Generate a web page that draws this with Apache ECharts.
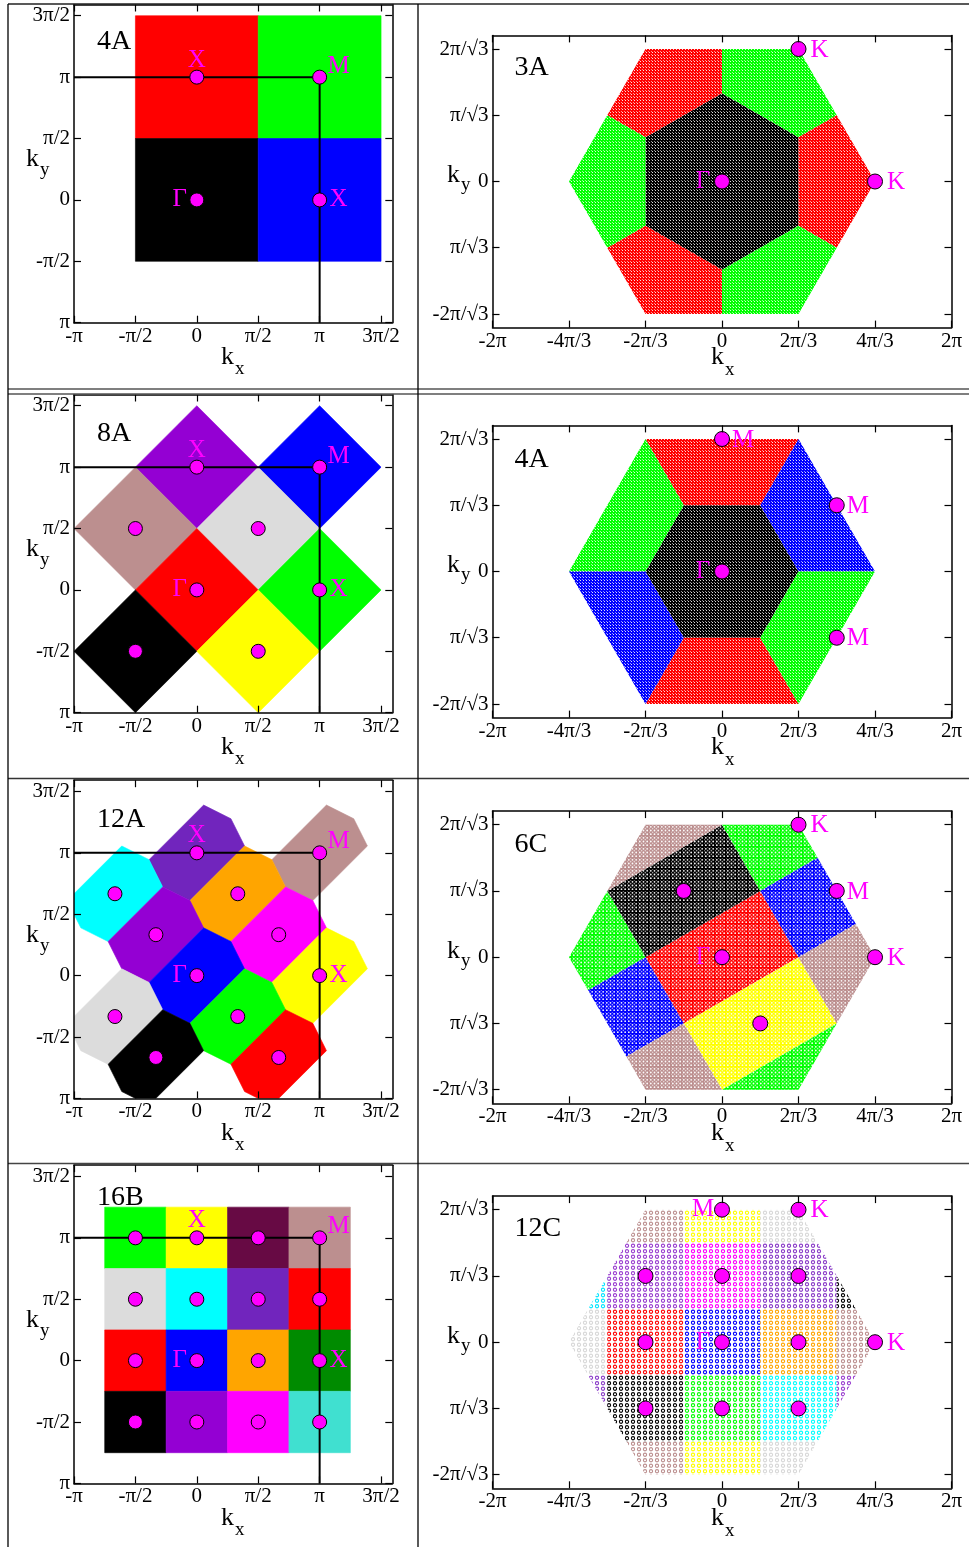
<!DOCTYPE html>
<html><head><meta charset="utf-8">
<script src="https://cdn.jsdelivr.net/npm/echarts@6/dist/echarts.min.js"></script>
<style>html,body{margin:0;padding:0;background:#fff}#c{width:969px;height:1547px}</style>
</head><body><div id="c"></div>
<script>
const PI = Math.PI;
const FONT = 'Liberation Serif';

// ---------- tick values (in units) and tick labels ----------
const sqTickUnits = [-2, -1, 0, 1, 2, 3];            // x pi/2
const sqXLabels = ['-π', '-π/2', '0', 'π/2', 'π', '3π/2'];
const sqYLabels = ['π', '-π/2', '0', 'π/2', 'π', '3π/2'];
const hxXUnits = [-6, -4, -2, 0, 2, 4, 6];           // x pi/3
const hxXLabels = ['-2π', '-4π/3', '-2π/3', '0', '2π/3', '4π/3', '2π'];
const hxYUnits = [-2, -1, 0, 1, 2];                  // x pi/sqrt3
const hxYLabels = ['-2π/√3', 'π/√3', '0', 'π/√3', '2π/√3'];

// ---------- square-lattice panels ----------
const bzPath = [[-2, 2], [2, 2], [2, -2]];           // x pi/2

// 4A (units pi/2)
const c4A_centers = [[0, 2], [2, 2], [0, 0], [2, 0]];
const c4A_colors = ['#ff0000', '#00ff00', '#000000', '#0000ff'];
const c4A_shape = [[-1, -1], [1, -1], [1, 1], [-1, 1]];
const c4A_labels = ['X', 'M', 'Γ', 'X'];
const c4A_sides = ['top', 'upright', 'left', 'right'];

// 8A (units pi/2)
const c8A_centers = [[0, 2], [2, 2], [-1, 1], [1, 1], [0, 0], [2, 0], [-1, -1], [1, -1]];
const c8A_colors = ['#9400d3', '#0000ff', '#bc8f8f', '#dcdcdc', '#ff0000', '#00ff00', '#000000', '#ffff00'];
const c8A_shape = [[1, 0], [0, 1], [-1, 0], [0, -1]];
const c8A_labels = ['X', 'M', '', '', 'Γ', 'X', '', ''];
const c8A_sides = ['top', 'upright', '', '', 'left', 'right', '', ''];

// 12A (units pi/3)
const c12A_centers = [[0, 3], [3, 3], [-2, 2], [1, 2], [-1, 1], [2, 1], [0, 0], [3, 0], [-2, -1], [1, -1], [-1, -2], [2, -2]];
const c12A_colors = ['#7125bd', '#bc8f8f', '#00ffff', '#ffa500', '#9400d3', '#ff00ff', '#0000ff', '#ffff00', '#dcdcdc', '#00ff00', '#000000', '#ff0000'];
const c12A_shape = [[7 / 6, 1 / 6], [5 / 6, 5 / 6], [1 / 6, 7 / 6], [-7 / 6, -1 / 6], [-5 / 6, -5 / 6], [-1 / 6, -7 / 6]];
const c12A_labels = ['X', 'M', '', '', '', '', 'Γ', 'X', '', '', '', ''];
const c12A_sides = ['top', 'upright', '', '', '', '', 'left', 'right', '', '', '', ''];

// 16B (units pi/2)
const c16B_centers = [[-1, 2], [0, 2], [1, 2], [2, 2], [-1, 1], [0, 1], [1, 1], [2, 1], [-1, 0], [0, 0], [1, 0], [2, 0], [-1, -1], [0, -1], [1, -1], [2, -1]];
const c16B_colors = ['#00ff00', '#ffff00', '#670a44', '#bc8f8f', '#dcdcdc', '#00ffff', '#7125bd', '#ff0000', '#ff0000', '#0000ff', '#ffa500', '#008b00', '#000000', '#9400d3', '#ff00ff', '#40e0d0'];
const c16B_shape = [[-0.5, -0.5], [0.5, -0.5], [0.5, 0.5], [-0.5, 0.5]];
const c16B_labels = ['', 'X', '', 'M', '', '', '', '', '', 'Γ', '', 'X', '', '', '', ''];
const c16B_sides = ['', 'top', '', 'upright', '', '', '', '', '', 'left', '', 'right', '', '', '', ''];

// ---------- hexagonal panels (u in pi/3, v in pi/sqrt3) ----------
const h3A_polys = [
  [[0, 4 / 3], [2, 2 / 3], [2, -2 / 3], [0, -4 / 3], [-2, -2 / 3], [-2, 2 / 3]],
  [[0, 4 / 3], [0, 2], [-2, 2], [-3, 1], [-2, 2 / 3]],
  [[0, 4 / 3], [0, 2], [2, 2], [3, 1], [2, 2 / 3]],
  [[2, 2 / 3], [3, 1], [4, 0], [3, -1], [2, -2 / 3]],
  [[2, -2 / 3], [3, -1], [2, -2], [0, -2], [0, -4 / 3]],
  [[0, -4 / 3], [0, -2], [-2, -2], [-3, -1], [-2, -2 / 3]],
  [[-2, -2 / 3], [-3, -1], [-4, 0], [-3, 1], [-2, 2 / 3]]
];
const h3A_colors = ['#000000', '#ff0000', '#00ff00', '#ff0000', '#00ff00', '#ff0000', '#00ff00'];
const h3A_points = [[0, 0], [2, 2], [4, 0]];
const h3A_labels = ['Γ', 'K', 'K'];
const h3A_sides = ['left', 'right', 'right'];

const h4A_polys = [
  [[2, 0], [1, 1], [-1, 1], [-2, 0], [-1, -1], [1, -1]],
  [[-1, 1], [1, 1], [2, 2], [-2, 2]],
  [[-1, -1], [1, -1], [2, -2], [-2, -2]],
  [[1, 1], [2, 2], [4, 0], [2, 0]],
  [[2, 0], [4, 0], [2, -2], [1, -1]],
  [[-1, 1], [-2, 2], [-4, 0], [-2, 0]],
  [[-2, 0], [-4, 0], [-2, -2], [-1, -1]]
];
const h4A_colors = ['#000000', '#ff0000', '#ff0000', '#0000ff', '#00ff00', '#00ff00', '#0000ff'];
const h4A_points = [[0, 0], [0, 2], [3, 1], [3, -1]];
const h4A_labels = ['Γ', 'M', 'M', 'M'];
const h4A_sides = ['left', 'right', 'right', 'right'];

const h6C_polys = [
  [[2, 0], [1, 1], [-2, 0], [-1, -1]],
  [[1, 1], [0, 2], [-3, 1], [-2, 0]],
  [[3, -1], [2, 0], [-1, -1], [0, -2]],
  [[0, 2], [1, 1], [2.5, 1.5], [2, 2]],
  [[3, -1], [0, -2], [2, -2]],
  [[-2, 0], [-3, 1], [-4, 0], [-3.5, -0.5]],
  [[1, 1], [2, 0], [3.5, 0.5], [2.5, 1.5]],
  [[-1, -1], [-2, 0], [-3.5, -0.5], [-2.5, -1.5]],
  [[2, 0], [3.5, 0.5], [4, 0], [3, -1]],
  [[-3, 1], [0, 2], [-2, 2]],
  [[0, -2], [-1, -1], [-2.5, -1.5], [-2, -2]]
];
const h6C_colors = ['#ff0000', '#000000', '#ffff00', '#00ff00', '#00ff00', '#00ff00', '#0000ff', '#0000ff', '#bc8f8f', '#bc8f8f', '#bc8f8f'];
const h6C_points = [[0, 0], [2, 2], [3, 1], [4, 0], [-1, 1], [1, -1]];
const h6C_labels = ['Γ', 'K', 'M', 'K', '', ''];
const h6C_sides = ['left', 'right', 'right', 'right', '', ''];

const h12C_polys = [
  [[-2.5, 1.5], [-1, 1.5], [-1, 2], [-2, 2]],
  [[-1, 1.5], [1, 1.5], [1, 2], [-1, 2]],
  [[1, 1.5], [2.5, 1.5], [2, 2], [1, 2]],
  [[-3.5, 0.5], [-3, 0.5], [-3, 1]],
  [[-3, 0.5], [-1, 0.5], [-1, 1.5], [-2.5, 1.5], [-3, 1]],
  [[-1, 0.5], [1, 0.5], [1, 1.5], [-1, 1.5]],
  [[1, 0.5], [3, 0.5], [3, 1], [2.5, 1.5], [1, 1.5]],
  [[3, 0.5], [3.5, 0.5], [3, 1]],
  [[-3, -0.5], [-3, 0.5], [-3.5, 0.5], [-4, 0], [-3.5, -0.5]],
  [[-3, -0.5], [-1, -0.5], [-1, 0.5], [-3, 0.5]],
  [[-1, -0.5], [1, -0.5], [1, 0.5], [-1, 0.5]],
  [[1, -0.5], [3, -0.5], [3, 0.5], [1, 0.5]],
  [[3, -0.5], [3.5, -0.5], [4, 0], [3.5, 0.5], [3, 0.5]],
  [[-3.5, -0.5], [-3, -0.5], [-3, -1]],
  [[-3, -0.5], [-1, -0.5], [-1, -1.5], [-2.5, -1.5], [-3, -1]],
  [[-1, -0.5], [1, -0.5], [1, -1.5], [-1, -1.5]],
  [[1, -0.5], [3, -0.5], [3, -1], [2.5, -1.5], [1, -1.5]],
  [[3, -0.5], [3.5, -0.5], [3, -1]],
  [[-2.5, -1.5], [-1, -1.5], [-1, -2], [-2, -2]],
  [[-1, -1.5], [1, -1.5], [1, -2], [-1, -2]],
  [[1, -1.5], [2.5, -1.5], [2, -2], [1, -2]]
];
const h12C_colors = ['#bc8f8f', '#ffff00', '#d8d8d8', '#00e5ff', '#9a3fd0', '#ff00ff', '#8a3cc8', '#000000',
  '#d8d8d8', '#ff0000', '#0000ff', '#ffa500', '#bc8f8f', '#8a3cc8', '#000000', '#00ff00', '#00ffff', '#9a3fd0',
  '#bc8f8f', '#ffff00', '#d8d8d8'];
const h12C_points = [[0, 2], [2, 2], [-2, 1], [0, 1], [2, 1], [-2, 0], [0, 0], [2, 0], [4, 0], [-2, -1], [0, -1], [2, -1]];
const h12C_labels = ['M', 'K', '', '', '', '', 'Γ', '', 'K', '', '', ''];
const h12C_sides = ['left', 'right', '', '', '', '', 'left', '', 'right', '', '', ''];

// ---------- layout ----------
const rowOff = [0, 390, 775.7, 1160.7];
const sqNames = ['4A', '8A', '12A', '16B'];
const sqNameY = [42, 433.5, 819.5, 1198];
const hxNames = ['3A', '4A', '6C', '12C'];
const hxNameY = [68, 460, 845, 1229];

// ---------- texture patterns ----------
function makePattern(color, kind) {
  const c = document.createElement('canvas');
  const ctx = c.getContext('2d');
  if (kind === 'dense') {
    c.width = 3; c.height = 3;
    ctx.fillStyle = color; ctx.fillRect(0, 0, 3, 3);
    ctx.fillStyle = 'rgba(255,255,255,0.85)'; ctx.fillRect(1, 1, 1, 1);
    ctx.fillStyle = 'rgba(255,255,255,0.55)'; ctx.fillRect(0, 0, 1, 1);
  } else if (kind === 'medium') {
    c.width = 11; c.height = 11;
    ctx.fillStyle = color; ctx.fillRect(0, 0, 11, 11);
    const p = 11 / 3;
    for (let i = 0; i < 3; i++) for (let j = 0; j < 3; j++) {
      ctx.fillStyle = 'rgba(255,255,255,0.95)';
      ctx.beginPath(); ctx.arc((i + 0.5) * p, (j + 0.5) * p, 0.9, 0, 2 * Math.PI); ctx.fill();
      ctx.fillStyle = 'rgba(255,255,255,0.6)';
      ctx.beginPath(); ctx.arc(i * p, j * p, 0.8, 0, 2 * Math.PI); ctx.fill();
    }
  } else {
    c.width = 12; c.height = 11;
    ctx.strokeStyle = color; ctx.lineWidth = 1.1;
    for (let i = 0; i < 2; i++) for (let j = 0; j < 2; j++) {
      ctx.beginPath(); ctx.arc(3 + 6 * i, 2.75 + 5.5 * j, 1.6, 0, 2 * Math.PI); ctx.stroke();
    }
  }
  return { image: c, repeat: 'repeat' };
}

// ---------- builders ----------
function findLabel(vals, labels, v) {
  let k = 0, b = 1e9;
  vals.forEach((t, j) => { const d = Math.abs(t - v); if (d < b) { b = d; k = j; } });
  return labels[k];
}
function mkAxis(gi, pos, min, max, vals, labels, showLabel, isX) {
  return {
    type: 'value', gridIndex: gi, position: pos, min: min, max: max, z: 6,
    axisLine: { show: true, onZero: false, lineStyle: { color: '#000', width: 1.5 } },
    axisTick: { show: true, inside: true, length: 7, customValues: vals, lineStyle: { color: '#000', width: 1.2 } },
    axisLabel: {
      show: showLabel, customValues: vals, margin: isX ? 3 : 4, hideOverlap: false,
      fontFamily: FONT, fontSize: 21, color: '#000',
      formatter: v => findLabel(vals, labels, v)
    },
    splitLine: { show: false }, splitArea: { show: false }
  };
}
const sqOff = { top: [0, -17], upright: [19, -11], right: [19, 0], left: [-17, 0] };
const hxOff = { right: [21, 1], left: [-19, 0] };

function polySeries(ai, polys, fills, strokes, ux, uy) {
  return {
    type: 'custom', xAxisIndex: ai, yAxisIndex: ai, clip: true, z: 1, silent: true,
    data: polys.map(p => [p[0][0] * ux, p[0][1] * uy]),
    renderItem: function (params, api) {
      const poly = polys[params.dataIndex];
      const pts = poly.map(v => api.coord([v[0] * ux, v[1] * uy]));
      return {
        type: 'polygon', shape: { points: pts },
        style: { fill: fills[params.dataIndex], stroke: strokes ? strokes[params.dataIndex] : null, lineWidth: strokes ? 0.6 : 0 }
      };
    }
  };
}
function pointSeries(ai, pts, labels, sides, ux, uy, size, offMap) {
  return {
    type: 'scatter', xAxisIndex: ai, yAxisIndex: ai, z: 4, silent: true, symbolSize: size,
    itemStyle: { color: '#ff00ff', borderColor: '#000', borderWidth: 1, opacity: 1 },
    emphasis: { disabled: true },
    data: pts.map((p, i) => ({
      value: [p[0] * ux, p[1] * uy],
      label: labels[i] ? {
        show: true, formatter: labels[i], position: 'inside', offset: offMap[sides[i]],
        color: '#ff00ff', fontFamily: FONT, fontSize: 25, textBorderWidth: 0
      } : { show: false }
    }))
  };
}

const grids = [], xAxes = [], yAxes = [], series = [], graphics = [];
const sqPanels = [
  [c4A_centers, c4A_colors, c4A_shape, c4A_labels, c4A_sides, PI / 2],
  [c8A_centers, c8A_colors, c8A_shape, c8A_labels, c8A_sides, PI / 2],
  [c12A_centers, c12A_colors, c12A_shape, c12A_labels, c12A_sides, PI / 3],
  [c16B_centers, c16B_colors, c16B_shape, c16B_labels, c16B_sides, PI / 2]
];
const hxPanels = [
  [h3A_polys, h3A_colors, h3A_points, h3A_labels, h3A_sides, 'dense'],
  [h4A_polys, h4A_colors, h4A_points, h4A_labels, h4A_sides, 'dense'],
  [h6C_polys, h6C_colors, h6C_points, h6C_labels, h6C_sides, 'medium'],
  [h12C_polys, h12C_colors, h12C_points, h12C_labels, h12C_sides, 'sparse']
];

function txt(x, y, text, size, color) {
  return { type: 'text', x: x, y: y, z: 100, silent: true,
    style: { text: text, fontSize: size, fontFamily: FONT, fill: color || '#000', verticalAlign: 'middle', align: 'left' } };
}

for (let r = 0; r < 4; r++) {
  const off = rowOff[r];
  // ---- left (square lattice) ----
  let gi = grids.length;
  grids.push({ left: 74, top: 4.5 + off, width: 318.3, height: 318.2, outerBoundsMode: 'none', containLabel: false });
  const sqVals = sqTickUnits.map(u => u * PI / 2);
  xAxes.push(mkAxis(gi, 'bottom', -PI, 5, sqVals, sqXLabels, true, true));
  xAxes.push(mkAxis(gi, 'top', -PI, 5, sqVals, sqXLabels, false, true));
  yAxes.push(mkAxis(gi, 'left', -PI, 5, sqVals, sqYLabels, true, false));
  yAxes.push(mkAxis(gi, 'right', -PI, 5, sqVals, sqYLabels, false, false));
  let ai = xAxes.length - 2;
  const sp = sqPanels[r];
  const polys = sp[0].map(c => sp[2].map(s => [c[0] + s[0], c[1] + s[1]]));
  series.push(polySeries(ai, polys, sp[1], sp[1], sp[5], sp[5]));
  series.push({
    type: 'line', xAxisIndex: ai, yAxisIndex: ai, z: 3, silent: true, symbol: 'none',
    lineStyle: { color: '#000', width: 2 }, data: bzPath.map(p => [p[0] * PI / 2, p[1] * PI / 2])
  });
  series.push(pointSeries(ai, sp[0], sp[3], sp[4], sp[5], sp[5], 14, sqOff));
  graphics.push(txt(97, sqNameY[r], sqNames[r], 28));
  graphics.push(txt(26, 159 + off, 'k', 26));
  graphics.push(txt(40, 170 + off, 'y', 19));
  graphics.push(txt(221, 357 + off, 'k', 26));
  graphics.push(txt(235, 369 + off, 'x', 19));

  // ---- right (hexagonal lattice) ----
  gi = grids.length;
  grids.push({ left: 492.5, top: 35.4 + off, width: 459, height: 292.2, outerBoundsMode: 'none', containLabel: false });
  const hxX = hxXUnits.map(u => u * PI / 3);
  const hxY = hxYUnits.map(u => u * PI / Math.sqrt(3));
  xAxes.push(mkAxis(gi, 'bottom', -2 * PI, 2 * PI, hxX, hxXLabels, true, true));
  xAxes.push(mkAxis(gi, 'top', -2 * PI, 2 * PI, hxX, hxXLabels, false, true));
  yAxes.push(mkAxis(gi, 'left', -4, 4, hxY, hxYLabels, true, false));
  yAxes.push(mkAxis(gi, 'right', -4, 4, hxY, hxYLabels, false, false));
  ai = xAxes.length - 2;
  const hp = hxPanels[r];
  const fills = hp[1].map(c => makePattern(c, hp[5]));
  series.push(polySeries(ai, hp[0], fills, null, PI / 3, PI / Math.sqrt(3)));
  series.push(pointSeries(ai, hp[2], hp[3], hp[4], PI / 3, PI / Math.sqrt(3), 15, hxOff));
  graphics.push(txt(514.5, hxNameY[r], hxNames[r], 28));
  graphics.push(txt(447, 175 + off, 'k', 26));
  graphics.push(txt(461, 185 + off, 'y', 19));
  graphics.push(txt(711, 357 + off, 'k', 26));
  graphics.push(txt(725, 370 + off, 'x', 19));
}

// panel frame lines
function ln(x1, y1, x2, y2, color, w) {
  return { type: 'line', z: 90, silent: true, shape: { x1: x1, y1: y1, x2: x2, y2: y2 }, style: { stroke: color, lineWidth: w } };
}
graphics.push(ln(8, 4, 969, 4, '#222', 1.3));
graphics.push(ln(8, 389, 969, 389, '#555', 1.5));
graphics.push(ln(8, 394, 969, 394, '#555', 1.5));
graphics.push(ln(8, 778.5, 969, 778.5, '#333', 1.5));
graphics.push(ln(8, 1163.5, 969, 1163.5, '#444', 1.5));
graphics.push(ln(8, 4, 8, 1547, '#000', 1.3));
graphics.push(ln(418, 4, 418, 1547, '#000', 1.3));

const chart = echarts.init(document.getElementById('c'), null, { renderer: 'canvas', width: 969, height: 1547 });
chart.setOption({
  animation: false,
  backgroundColor: '#ffffff',
  grid: grids, xAxis: xAxes, yAxis: yAxes, series: series, graphic: graphics
});
</script>
</body></html>
